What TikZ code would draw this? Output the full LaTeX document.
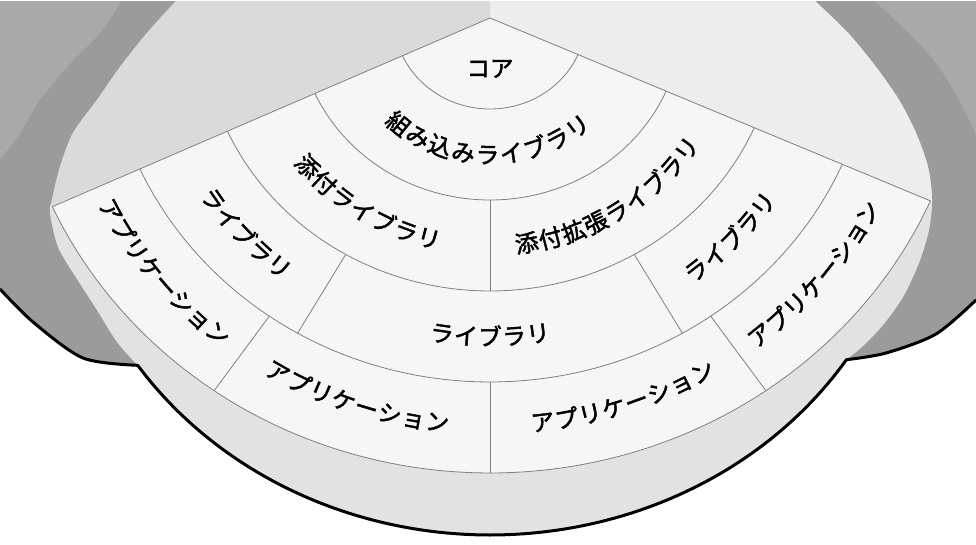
\documentclass[tikz,border=0pt]{standalone}
\usepackage{fontspec}
\newfontfamily\jp{Noto Sans CJK JP}[FakeBold=2]
\definecolor{blobdark}{HTML}{9B9B9B}
\definecolor{blobtop}{HTML}{A9A9A9}
\definecolor{topL}{HTML}{DADADA}
\definecolor{topR}{HTML}{EDEDED}
\definecolor{rimc}{HTML}{E2E2E2}
\definecolor{fanfill}{HTML}{F6F6F6}
\definecolor{fanln}{HTML}{7F7F7F}
\def\chadv{23.5}
% bottom edge of the disc: ellipse centre (490,150), radii 425 and 385, from t=33 to t=146
\def\discpath{(177,0) -- (814,0) -- plot[smooth] coordinates {(814,0) (848,33) (876,67) (899,100) (916,133) (928,167) (932,200) (929,230) (919,263) (903,297) (883,325) (863,346) (846.4,359.7)} -- plot[domain=33:146, samples=100] ({490+425*cos(\x)},{150+385*sin(\x)}) -- plot[smooth] coordinates {(137.7,365.3) (117,342) (97,310) (77,279) (58,247) (50,213) (52,200) (60,167) (73,133) (97,100) (120,67) (147,33) (177,0)} -- cycle}
\newcommand\ringarc[3]{\draw[fanline] plot[domain=#2:#3, samples=90] ({490+96.2*#1*cos(\x)},{18+91*#1*sin(\x)});}
\newcommand\ringdiv[3]{\draw[fanline] ({490+96.2*#2*cos(#1)},{18+91*#2*sin(#1)}) -- ({490+96.2*#3*cos(#1)},{18+91*#3*sin(#1)});}
\newcommand\ringtext[5]{%
  \pgfmathsetmacro\mydt{\chadv/(#2*93.6)*57.2958}%
  \foreach \mych [count=\i] in {#5} {%
    \pgfmathsetmacro\myang{#3 + ((#4-1)/2 - (\i-1))*\mydt}%
    \node[lbl, rotate={90-\myang}] (#1\i) at ({490+96.2*#2*cos(\myang)}, {18+91*#2*sin(\myang)}) {\mych};
  }}
\begin{document}
\begin{tikzpicture}[x=1pt,y=-1pt,
  fanline/.style={draw=fanln, line width=0.8pt},
  lbl/.style={font=\jp\fontsize{23.5}{24}\selectfont, inner xsep=-2pt, inner ysep=-2.5pt, text height=20.7pt, text depth=2.8pt, text=black}]
\useasboundingbox (0,0) rectangle (976,544);
\fill[white] (0,0) rectangle (976,544);
% side blobs
\fill[blobdark] (0,0) -- (250,0) -- (250,250) -- (137.7,365.3) -- plot[smooth] coordinates {(137.7,365.3) (83,358) (33,322) (0,289)} -- cycle;
\fill[blobdark] (976,0) -- (700,0) -- (700,250) -- (846.4,359.7) -- plot[smooth] coordinates {(846.4,359.7) (886,353) (936,334) (976,300)} -- cycle;
\fill[blobtop] (0,0) -- plot[smooth] coordinates {(122,0) (100,33) (67,67) (40,100) (20,133) (0,160)} -- cycle;
\fill[blobtop] (976,0) -- plot[smooth] coordinates {(873,0) (909,33) (939,67) (963,107) (976,135)} -- cycle;
% disc
\fill[rimc] \discpath;
\begin{scope}
  \clip \discpath;
  \fill[topL] (490,-5) -- (-5,-5) -- (-5,230) -- (490,18) -- cycle;
  \fill[topR] (490,-5) -- (981,-5) -- (981,221) -- (490,18) -- cycle;
\end{scope}
% outline
\draw[black, line width=3pt, line join=round] plot[smooth] coordinates {(0,289) (33,322) (83,358) (137.7,365.3)} -- plot[domain=146:33, samples=100] ({490+425*cos(\x)},{150+385*sin(\x)}) -- plot[smooth] coordinates {(846.4,359.7) (886,353) (936,334) (976,300)};
% fan
\coordinate (C) at (490,18);
\fill[fanfill] (C) -- plot[domain=23.7:155.5, samples=120] ({490+481*cos(\x)},{18+455*sin(\x)}) -- cycle;
\foreach \k in {1,...,5} {\ringarc{\k}{23.7}{155.5}}
\coordinate (EL) at ({490+481*cos(155.5)},{18+455*sin(155.5)});
\coordinate (ER) at ({490+481*cos(23.7)},{18+455*sin(23.7)});
\draw[fanline] (EL) -- (C) -- (ER);
\ringdiv{90}{2}{3}
\ringdiv{60}{3}{4}
\ringdiv{120}{3}{4}
\ringdiv{55}{4}{5}
\ringdiv{90}{4}{5}
\ringdiv{125}{4}{5}
% top white strip
\fill[white] (0,0) rectangle (976,1);
% labels
\node[lbl] (core) at (490,68) {コア};
\ringtext{kumi}{1.5}{91}{9}{組,み,込,み,ラ,イ,ブ,ラ,リ}
\ringtext{tenpu}{2.5}{122}{7}{添,付,ラ,イ,ブ,ラ,リ}
\ringtext{kaku}{2.5}{58.2}{9}{添,付,拡,張,ラ,イ,ブ,ラ,リ}
\ringtext{libL}{3.5}{137}{5}{ラ,イ,ブ,ラ,リ}
\ringtext{libC}{3.5}{90}{5}{ラ,イ,ブ,ラ,リ}
\ringtext{libR}{3.5}{44}{5}{ラ,イ,ブ,ラ,リ}
\ringtext{appA}{4.47}{140.5}{8}{ア,プ,リ,ケ,ー,シ,ョ,ン}
\ringtext{appB}{4.47}{108.3}{8}{ア,プ,リ,ケ,ー,シ,ョ,ン}
\ringtext{appC}{4.47}{71.7}{8}{ア,プ,リ,ケ,ー,シ,ョ,ン}
\ringtext{appD}{4.47}{39.9}{8}{ア,プ,リ,ケ,ー,シ,ョ,ン}
\end{tikzpicture}
\end{document}
